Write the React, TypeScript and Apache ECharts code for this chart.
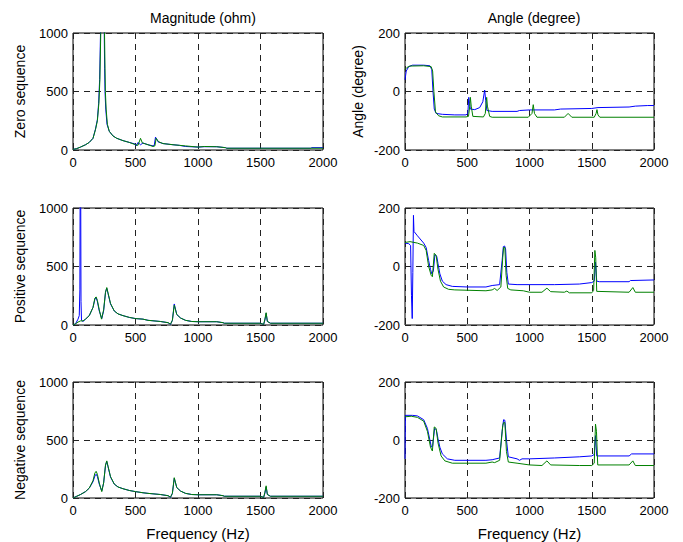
import React, { useEffect, useRef } from "react";
import * as echarts from "echarts";

const rowNames = ["Zero sequence", "Positive sequence", "Negative sequence"];
const colTitles = ["Magnitude (ohm)", "Angle (degree)"];
const xName = "Frequency (Hz)";

const zeroMagBlue = [[0,5],[30,12],[60,25],[100,45],[130,65],[160,100],[180,180],[195,260],[205,400],[213,600],[220,1000],[235,1600],[250,1000],[253,700],[256,500],[262,350],[272,220],[290,160],[320,120],[350,100],[400,80],[450,65],[500,50],[505,35],[520,65],[540,45],[560,60],[600,45],[640,35],[650,40],[660,110],[680,70],[720,55],[800,45],[850,40],[900,30],[1000,25],[1050,28],[1150,28],[1220,20],[1230,15],[1500,15],[1900,15],[1910,20],[2000,20]];
const zeroMagGreen = [[0,5],[30,12],[60,25],[100,45],[130,65],[160,100],[180,175],[195,250],[207,400],[215,600],[222,1000],[238,1800],[252,1000],[256,700],[259,500],[265,350],[275,220],[290,160],[320,120],[350,100],[400,80],[450,65],[500,45],[520,40],[540,100],[555,60],[600,45],[640,30],[655,35],[665,100],[685,70],[720,55],[800,45],[850,40],[900,35],[1000,25],[1050,30],[1150,28],[1220,20],[1230,15],[2000,15]];
const zeroAngBlue = [[0,40],[10,70],[30,85],[60,90],[150,90],[200,88],[215,75],[225,0],[235,-60],[250,-75],[300,-78],[400,-80],[490,-80],[505,-75],[512,-20],[518,-40],[525,-60],[560,-62],[600,-55],[625,-35],[640,5],[648,-30],[658,-65],[700,-68],[900,-68],[920,-65],[1000,-63],[1200,-63],[1250,-60],[1500,-58],[1550,-55],[1800,-53],[1850,-50],[1950,-48],[2000,-48]];
const zeroAngGreen = [[0,75],[15,82],[40,87],[150,88],[210,85],[222,70],[232,0],[245,-70],[270,-83],[300,-87],[490,-87],[510,-85],[520,-50],[525,-20],[532,-50],[545,-85],[630,-87],[645,-75],[652,-35],[656,-20],[662,-50],[680,-85],[700,-88],[990,-88],[1020,-75],[1030,-45],[1040,-75],[1060,-88],[1280,-88],[1310,-75],[1340,-88],[1520,-88],[1535,-75],[1542,-62],[1550,-80],[1565,-88],[2000,-88]];

const posMagBlue = [[0,0],[20,10],[40,50],[50,80],[55,300],[58,1500],[62,1000],[64,200],[68,40],[80,30],[100,50],[130,80],[160,150],[175,220],[185,235],[195,200],[210,120],[230,55],[245,120],[260,280],[270,315],[280,270],[300,180],[330,120],[360,95],[400,80],[450,65],[500,55],[560,50],[600,40],[700,30],[760,20],[780,5],[795,40],[810,180],[830,90],[860,60],[900,40],[950,30],[1000,28],[1150,28],[1200,20],[1210,15],[1500,15],[1525,5],[1535,40],[1545,100],[1555,30],[1580,15],[2000,15]];
const posMagGreen = [[0,0],[20,10],[40,25],[60,35],[80,35],[100,50],[130,80],[160,150],[175,230],[185,240],[195,210],[210,130],[228,50],[245,130],[260,280],[270,320],[280,275],[300,185],[330,120],[360,95],[400,80],[450,65],[500,55],[560,50],[600,40],[700,30],[760,20],[780,8],[795,40],[810,170],[830,90],[860,60],[900,40],[950,30],[1000,28],[1150,28],[1200,20],[1210,15],[1500,15],[1525,5],[1535,50],[1545,105],[1555,30],[1580,15],[2000,15]];
const posAngBlue = [[0,80],[30,78],[45,72],[52,-100],[58,-178],[63,-20],[68,175],[72,120],[100,105],[150,80],[170,65],[190,20],[205,-10],[215,-25],[228,-15],[240,40],[255,35],[265,10],[280,-25],[300,-50],[330,-62],[380,-68],[500,-70],[650,-70],[700,-65],[760,-62],[780,20],[790,68],[800,70],[808,60],[818,-20],[830,-60],[900,-62],[1200,-62],[1400,-60],[1500,-55],[1520,-50],[1530,15],[1540,-50],[1560,-52],[1800,-52],[1810,-48],[2000,-46]];
const posAngGreen = [[0,82],[40,85],[100,80],[150,72],[170,55],[190,0],[210,-30],[220,-35],[235,45],[250,38],[265,-10],[285,-50],[310,-70],[350,-78],[400,-80],[650,-83],[700,-80],[720,-75],[740,-82],[770,-70],[785,30],[792,65],[802,65],[812,-30],[825,-75],[850,-80],[950,-83],[1000,-88],[1100,-88],[1140,-74],[1170,-86],[1280,-88],[1300,-84],[1320,-90],[1500,-90],[1515,-82],[1525,55],[1532,30],[1540,-85],[1800,-88],[1830,-72],[1850,-88],[2000,-88]];

const negMagBlue = [[0,0],[30,15],[60,30],[100,55],[130,85],[160,140],[175,190],[185,205],[195,185],[210,120],[230,60],[245,130],[260,280],[270,315],[280,270],[300,180],[330,120],[360,95],[400,80],[450,65],[500,55],[560,45],[600,40],[700,30],[760,20],[780,5],[795,40],[810,170],[830,90],[860,60],[900,40],[950,30],[1000,28],[1150,28],[1200,20],[1210,15],[1500,15],[1525,5],[1535,40],[1545,95],[1555,30],[1580,15],[2000,15]];
const negMagGreen = [[0,0],[30,15],[60,30],[100,55],[130,85],[160,150],[175,215],[185,230],[195,205],[210,130],[230,55],[245,130],[260,285],[270,320],[280,275],[300,185],[330,120],[360,95],[400,80],[450,65],[500,55],[560,45],[600,40],[700,30],[760,20],[780,8],[795,40],[810,175],[830,90],[860,60],[900,40],[950,30],[1000,28],[1150,28],[1200,20],[1210,15],[1500,15],[1525,5],[1535,50],[1545,105],[1555,30],[1580,15],[2000,15]];
const negAngBlue = [[0,-65],[3,85],[60,85],[100,83],[150,70],[180,40],[200,0],[212,-25],[222,-20],[238,40],[252,35],[265,5],[280,-25],[300,-48],[340,-65],[400,-70],[650,-70],[700,-68],[760,-62],[780,30],[792,70],[802,68],[815,0],[830,-58],[900,-65],[920,-70],[940,-65],[1000,-65],[1200,-62],[1400,-58],[1500,-55],[1520,-50],[1530,15],[1540,-55],[1800,-55],[1820,-48],[2000,-48]];
const negAngGreen = [[0,80],[50,82],[100,78],[150,65],[180,30],[205,-25],[220,-38],[235,45],[250,40],[265,-10],[290,-55],[320,-72],[380,-80],[650,-80],[700,-76],[720,-78],[760,-70],[785,50],[792,60],[802,60],[815,-40],[830,-76],[900,-80],[1000,-86],[1100,-88],[1140,-72],[1170,-86],[1400,-88],[1500,-88],[1520,-80],[1530,55],[1538,30],[1548,-86],[1800,-86],[1830,-72],[1850,-88],[2000,-88]];

const panels = [
  { blue: zeroMagBlue, green: zeroMagGreen, mag: true, row: 0 },
  { blue: zeroAngBlue, green: zeroAngGreen, mag: false, row: 0 },
  { blue: posMagBlue, green: posMagGreen, mag: true, row: 1 },
  { blue: posAngBlue, green: posAngGreen, mag: false, row: 1 },
  { blue: negMagBlue, green: negMagGreen, mag: true, row: 2 },
  { blue: negAngBlue, green: negAngGreen, mag: false, row: 2 },
];

const FONT = "'Liberation Sans', Arial, sans-serif";

export default function App() {
  const ref = useRef<HTMLDivElement>(null);
  useEffect(() => {
    const chart = echarts.init(ref.current!, null, { renderer: "svg" });
    const tops = [33, 208, 382];
    const heights = [117, 117, 116];
    const grid: any[] = [];
    const xAxis: any[] = [];
    const yAxis: any[] = [];
    const series: any[] = [];
    const split = { show: true, lineStyle: { color: "#222", width: 1, type: [6, 5] } };
    const fmt = (v: number) => String(v);
    panels.forEach((p, i) => {
      const left = p.mag ? 73 : 405;
      grid.push({
        left, top: tops[p.row], width: p.mag ? 250 : 249, height: heights[p.row],
        show: true, borderColor: "#000", borderWidth: 1, backgroundColor: "#fff",
      });
      xAxis.push({
        type: "value", gridIndex: i, min: 0, max: 2000, interval: 500,
        axisLine: { show: false }, axisTick: { show: false },
        axisLabel: { color: "#000", fontSize: 13, fontFamily: FONT, margin: 6, formatter: fmt },
        splitLine: split,
        name: p.row === 2 ? xName : "",
        nameLocation: "middle", nameGap: 28,
        nameTextStyle: { color: "#000", fontSize: 15, fontFamily: FONT },
      });
      let yName = "";
      if (p.mag) yName = rowNames[p.row];
      else if (p.row === 0) yName = "Angle (degree)";
      yAxis.push({
        type: "value", gridIndex: i,
        min: p.mag ? 0 : -200, max: p.mag ? 1000 : 200, interval: p.mag ? 500 : 200,
        axisLine: { show: false }, axisTick: { show: false },
        axisLabel: { color: "#000", fontSize: 13, fontFamily: FONT, margin: 5, formatter: fmt },
        splitLine: split,
        name: yName, nameLocation: "middle", nameGap: p.mag ? 46 : 40,
        nameTextStyle: { color: "#000", fontSize: 14, fontFamily: FONT },
      });
      series.push({
        type: "line", xAxisIndex: i, yAxisIndex: i, data: p.blue, showSymbol: false,
        lineStyle: { color: "#0000ff", width: 1 }, itemStyle: { color: "#0000ff" }, silent: true,
      });
      series.push({
        type: "line", xAxisIndex: i, yAxisIndex: i, data: p.green, showSymbol: false,
        lineStyle: { color: "#008000", width: 1 }, itemStyle: { color: "#008000" }, silent: true,
      });
    });
    chart.setOption({
      animation: false,
      backgroundColor: "#fff",
      textStyle: { fontFamily: FONT },
      title: [
        { text: colTitles[0], left: 198, top: 6, textAlign: "center", textStyle: { fontSize: 14, fontWeight: "normal", color: "#000", fontFamily: FONT } },
        { text: colTitles[1], left: 529, top: 6, textAlign: "center", textStyle: { fontSize: 14, fontWeight: "normal", color: "#000", fontFamily: FONT } },
      ],
      grid, xAxis, yAxis, series,
    });
    return () => chart.dispose();
  }, []);
  return <div ref={ref} style={{ position: "fixed", left: 0, top: 0, width: 683, height: 542, background: "#fff" }} />;
}
